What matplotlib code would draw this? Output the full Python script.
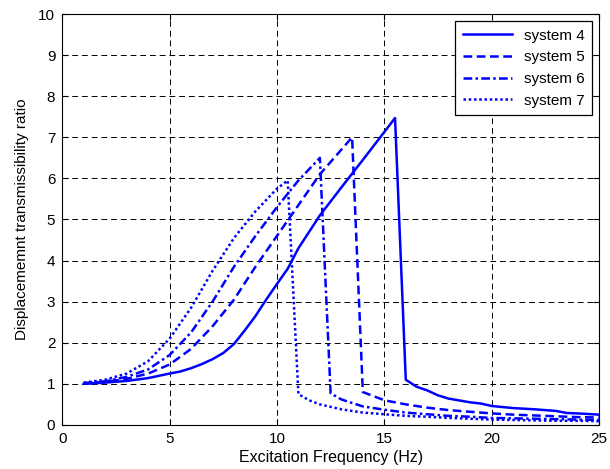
import matplotlib
matplotlib.use("Agg")
import matplotlib.pyplot as plt

plt.rcParams['font.family'] = ['Liberation Sans', 'DejaVu Sans']

# Frequency (Hz) and displacement transmissibility for each system
freq_s4 = [1, 2, 3, 4, 5, 5.5, 6, 6.5, 7, 7.5, 8, 8.5, 9, 9.5, 10, 10.5, 11, 11.5, 12,
           13, 14, 15, 15.5, 16, 16.5, 17, 17.5, 18, 19, 19.5, 20, 21, 22, 23, 23.5, 24, 25]
ratio_s4 = [1.0, 1.03, 1.07, 1.14, 1.25, 1.3, 1.38, 1.48, 1.6, 1.75, 1.97, 2.3, 2.65, 3.05, 3.43,
            3.8, 4.3, 4.7, 5.1, 5.78, 6.45, 7.13, 7.47, 1.1, 0.93, 0.84, 0.72, 0.64, 0.55, 0.52,
            0.46, 0.41, 0.38, 0.34, 0.29, 0.28, 0.25]

freq_s5 = [1, 2, 3, 4, 5, 6, 7, 8, 9, 10, 11, 12, 13, 13.5, 14, 15, 16, 17, 18, 19, 20,
           21, 22, 23, 24, 25]
ratio_s5 = [1.0, 1.05, 1.12, 1.25, 1.47, 1.85, 2.4, 3.05, 3.85, 4.6, 5.35, 6.1, 6.7, 7.0, 0.8,
            0.6, 0.5, 0.42, 0.36, 0.32, 0.28, 0.25, 0.23, 0.21, 0.19, 0.18]

freq_s6 = [1, 2, 3, 4, 5, 6, 7, 8, 9, 10, 11, 12, 12.5, 13, 14, 15, 16, 17, 18, 19, 20,
           21, 22, 23, 24, 25]
ratio_s6 = [1.02, 1.06, 1.17, 1.35, 1.7, 2.25, 3.0, 3.85, 4.6, 5.3, 5.95, 6.5, 0.77, 0.62,
            0.45, 0.37, 0.3, 0.26, 0.22, 0.2, 0.17, 0.16, 0.15, 0.14, 0.13, 0.12]

freq_s7 = [1, 2, 3, 4, 5, 6, 7, 8, 9, 10, 10.5, 11, 11.5, 12, 13, 14, 15, 16, 17, 18, 19,
           20, 21, 22, 23, 24, 25]
ratio_s7 = [1.03, 1.1, 1.25, 1.55, 2.1, 2.85, 3.75, 4.55, 5.2, 5.75, 5.95, 0.75, 0.6, 0.5,
            0.38, 0.3, 0.26, 0.22, 0.2, 0.17, 0.15, 0.13, 0.12, 0.11, 0.1, 0.1, 0.09]

labels = ['system 4', 'system 5', 'system 6', 'system 7']
x_ticks = [0, 5, 10, 15, 20, 25]
y_ticks = list(range(0, 11))

fig = plt.figure(figsize=(6.10, 4.69), dpi=100)
ax = fig.add_axes([0.102, 0.094, 0.880, 0.876])

blue = '#0000ff'
lw = 1.8
ax.plot(freq_s4, ratio_s4, color=blue, lw=lw, linestyle='-', label=labels[0])
ax.plot(freq_s5, ratio_s5, color=blue, lw=lw, linestyle=(0, (3.5, 1.8)), label=labels[1])
ax.plot(freq_s6, ratio_s6, color=blue, lw=lw, linestyle=(0, (3.5, 1.3, 1, 1.3)), label=labels[2])
ax.plot(freq_s7, ratio_s7, color=blue, lw=lw, linestyle=(0, (1, 1.1)), label=labels[3])

ax.set_xlim(0, 25)
ax.set_ylim(0, 10)
ax.set_xticks(x_ticks)
ax.set_yticks(y_ticks)
ax.tick_params(direction='in', length=4, labelsize=11, colors='black', top=True, right=True,
               labeltop=False, labelright=False, pad=5)
ax.grid(True, color='black', linestyle=(0, (6, 4)), linewidth=0.7)
for s in ax.spines.values():
    s.set_linewidth(0.8)

ax.set_xlabel('Excitation Frequency (Hz)', fontsize=11.5, labelpad=3)
ax.set_ylabel('Displacememnt transmissibility ratio', fontsize=11, labelpad=7)

leg = ax.legend(loc='upper right', fontsize=11, fancybox=False, framealpha=1,
                edgecolor='black', handlelength=3.2, borderaxespad=0.45, labelspacing=0.5,
                borderpad=0.5)
leg.get_frame().set_linewidth(0.9)

fig.savefig('out.png', dpi=100)
